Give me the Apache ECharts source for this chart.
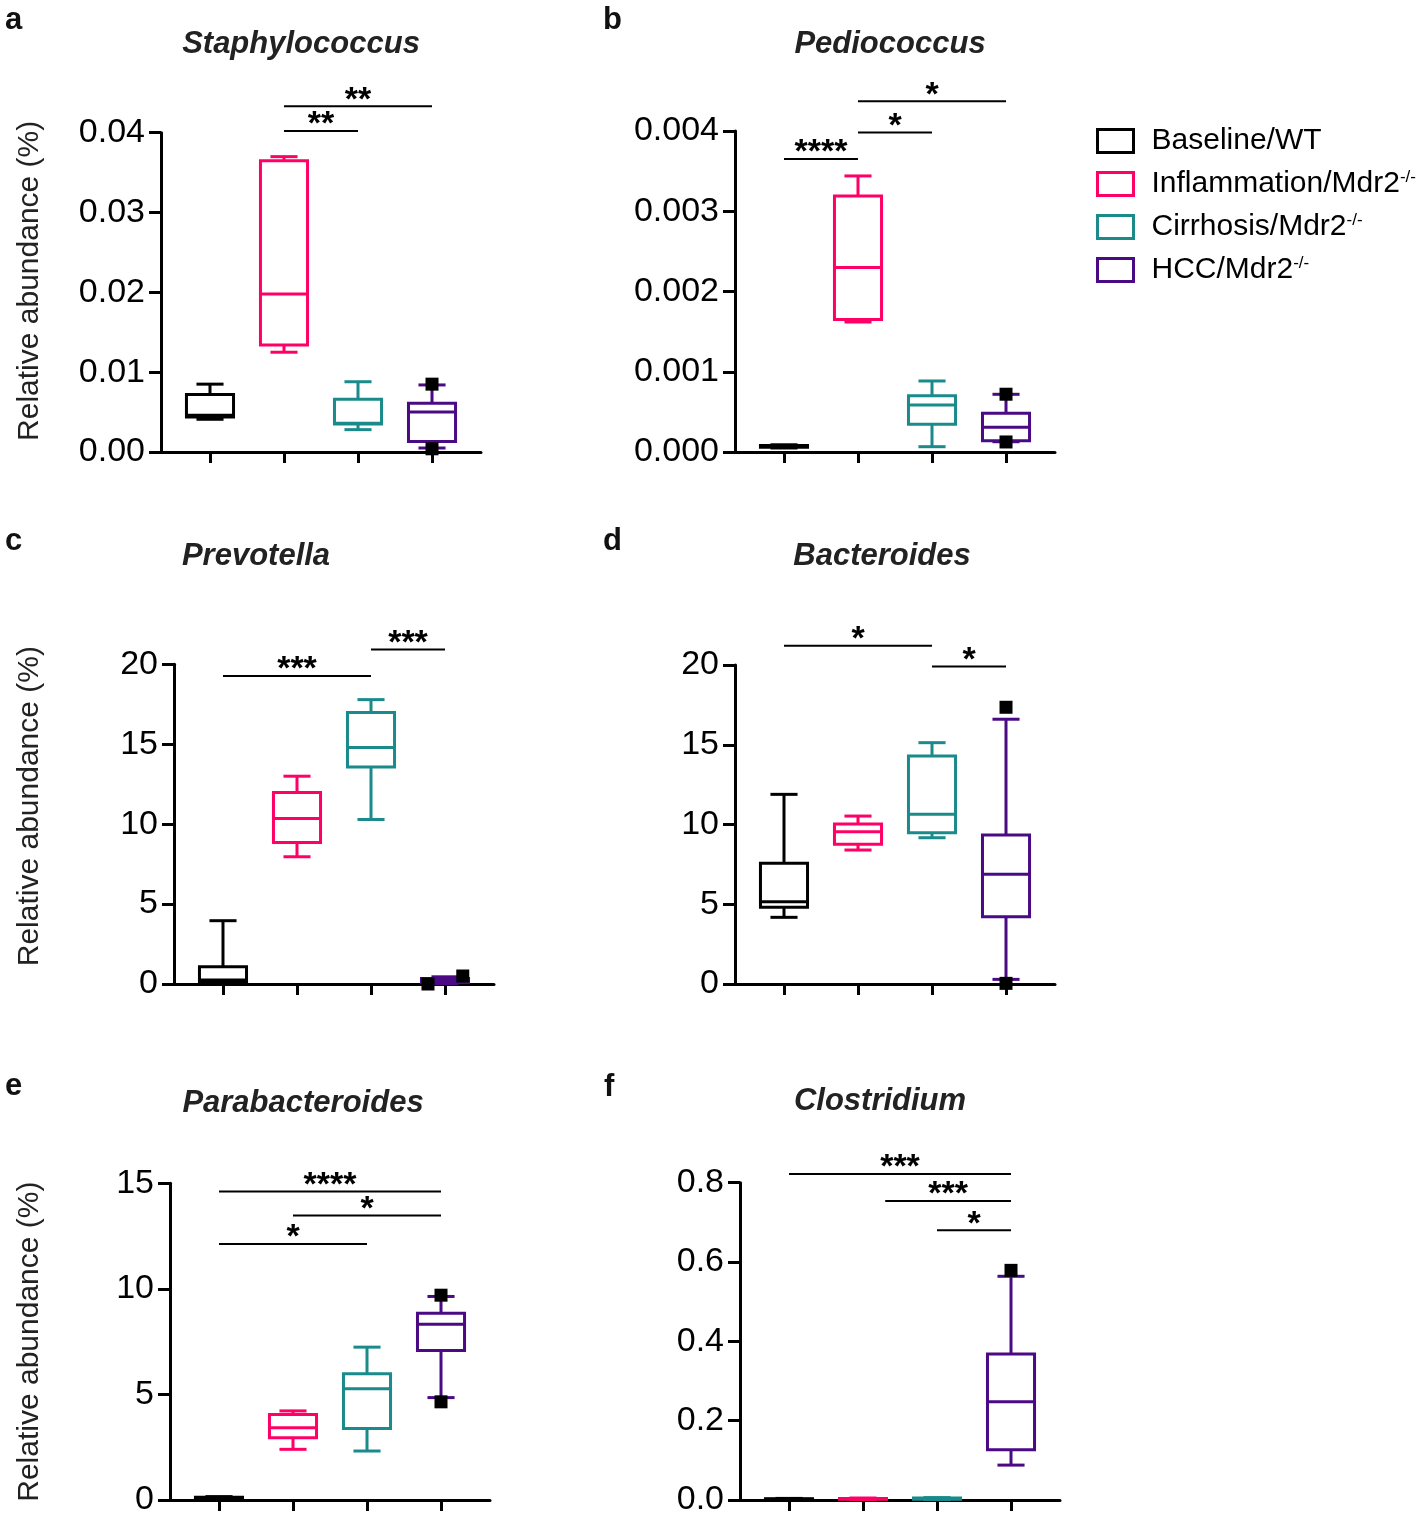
<!DOCTYPE html>
<html><head><meta charset="utf-8">
<script src="https://cdn.jsdelivr.net/npm/echarts@6/dist/echarts.min.js"></script>
<style>html,body{margin:0;padding:0;background:#fff}#c{width:1418px;height:1517px}</style>
</head><body><div id="c"></div>
<script>
// ---------- DATA ----------
const groups = ['Baseline/WT', 'Inflammation/Mdr2-/-', 'Cirrhosis/Mdr2-/-', 'HCC/Mdr2-/-'];
const panelNames = ['Staphylococcus', 'Pediococcus', 'Prevotella', 'Bacteroides', 'Parabacteroides', 'Clostridium'];
const panelLetters = ['a', 'b', 'c', 'd', 'e', 'f'];
const yAxisTitle = 'Relative abundance (%)';

// y tick labels per panel
const staphTicks = ['0.00', '0.01', '0.02', '0.03', '0.04'];
const pedioTicks = ['0.000', '0.001', '0.002', '0.003', '0.004'];
const prevoTicks = ['0', '5', '10', '15', '20'];
const bactTicks = ['0', '5', '10', '15', '20'];
const paraTicks = ['0', '5', '10', '15'];
const clostTicks = ['0.0', '0.2', '0.4', '0.6', '0.8'];
const yMax = [0.04, 0.004, 20, 20, 15, 0.8];
const yStep = [0.01, 0.001, 5, 5, 5, 0.2];

// box stats per group: [min, q1, median, q3, max]
const staphBox = [
  [0.0041, 0.0044, 0.0046, 0.0072, 0.0085],
  [0.0125, 0.0134, 0.0198, 0.0365, 0.0370],
  [0.0028, 0.0035, 0.0036, 0.0066, 0.0088],
  [0.0005, 0.0013, 0.0050, 0.0061, 0.0084]
];
const pedioBox = [
  [0.00005, 0.00006, 0.00007, 0.00008, 0.00009],
  [0.00162, 0.00165, 0.00230, 0.00319, 0.00344],
  [0.000066, 0.000345, 0.000586, 0.000702, 0.000885],
  [0.000128, 0.000141, 0.000307, 0.000482, 0.000719]
];
const prevoBox = [
  [0.0, 0.1, 0.25, 1.08, 3.96],
  [7.96, 8.85, 10.35, 11.98, 13.0],
  [10.29, 13.58, 14.79, 16.98, 17.79],
  [0.02, 0.1, 0.2, 0.35, 0.45]
];
const bactBox = [
  [4.18, 4.81, 5.16, 7.57, 11.89],
  [8.40, 8.76, 9.55, 10.03, 10.53],
  [9.17, 9.49, 10.64, 14.29, 15.13],
  [0.29, 4.22, 6.88, 9.34, 16.6]
];
const paraBox = [
  [0.05, 0.08, 0.10, 0.13, 0.16],
  [2.40, 2.95, 3.42, 4.05, 4.22],
  [2.32, 3.39, 5.27, 5.98, 7.24],
  [4.85, 7.08, 8.33, 8.85, 9.64]
];
const clostBox = [
  [0.001, 0.002, 0.002, 0.003, 0.004],
  [0.001, 0.002, 0.003, 0.004, 0.005],
  [0.001, 0.002, 0.003, 0.005, 0.006],
  [0.088, 0.127, 0.248, 0.368, 0.564]
];

// individual points drawn as squares: [group position, value]
const staphPts = [[3, 0.0085], [3, 0.0004]];
const pedioPts = [[3, 0.00072], [3, 0.000125]];
const prevoPts = [[2.77, 0.0], [3.24, 0.5]];
const bactPts = [[3, 17.35], [3, 0.04]];
const paraPts = [[3, 9.7], [3, 4.65]];
const clostPts = [[3, 0.579]];

// significance brackets: [from group, to group, height, label]
const staphSig = [[1, 2, 0.0402, '**'], [1, 3, 0.0433, '**']];
const pedioSig = [[0, 1, 0.00365, '****'], [1, 2, 0.00398, '*'], [1, 3, 0.00437, '*']];
const prevoSig = [[0, 2, 19.27, '***'], [2, 3, 20.92, '***']];
const bactSig = [[0, 2, 21.21, '*'], [2, 3, 19.9, '*']];
const paraSig = [[0, 3, 14.61, '****'], [1, 3, 13.48, '*'], [0, 2, 12.13, '*']];
const clostSig = [[0, 3, 0.822, '***'], [1.3, 3, 0.754, '***'], [2, 3, 0.680, '*']];

// ---------- STYLE / LAYOUT ----------
const colors = ['#000000', '#ff0066', '#1a8a8a', '#4a0a84'];
const FF = '"Liberation Sans", Arial, Helvetica, sans-serif';
const allTicks = [staphTicks, pedioTicks, prevoTicks, bactTicks, paraTicks, clostTicks];
const allBox = [staphBox, pedioBox, prevoBox, bactBox, paraBox, clostBox];
const allPts = [staphPts, pedioPts, prevoPts, bactPts, paraPts, clostPts];
const allSig = [staphSig, pedioSig, prevoSig, bactSig, paraSig, clostSig];
// grid: left, top, width, height
const layout = [
  [161, 132.7, 320, 319.3],
  [735, 131, 320, 321],
  [174, 664.3, 320, 319.7],
  [735, 665, 320, 319],
  [170, 1183.3, 320, 318.7],
  [740, 1182.7, 320, 319]
];
const titlePos = [[296, 24], [885, 24], [251, 536], [877, 536], [298, 1083], [875, 1081]];
const letterPos = [[0, 0], [598, 0], [0, 521], [598, 521], [0, 1066], [599, 1067]];
const nameGaps = [116, null, 129, null, 125, null];
const namePad = [[0, 0, 0, 23], null, [0, 0, 0, 36], null, [0, 0, 0, 0], null];

function renderBox(params, api) {
  const g = api.value(0);
  const pMin = api.coord([g, api.value(1)]);
  const pQ1 = api.coord([g, api.value(2)]);
  const pMed = api.coord([g, api.value(3)]);
  const pQ3 = api.coord([g, api.value(4)]);
  const pMax = api.coord([g, api.value(5)]);
  const band = api.size([1, 0])[0];
  const hb = band * 0.318, hc = band * 0.183;
  const cx = pMed[0];
  const color = api.visual('color');
  const ls = { stroke: color, lineWidth: 3, fill: 'none' };
  return {
    type: 'group', children: [
      { type: 'line', shape: { x1: cx, y1: pQ3[1], x2: cx, y2: pMax[1] }, style: ls },
      { type: 'line', shape: { x1: cx, y1: pQ1[1], x2: cx, y2: pMin[1] }, style: ls },
      { type: 'line', shape: { x1: cx - hc, y1: pMax[1], x2: cx + hc, y2: pMax[1] }, style: ls },
      { type: 'line', shape: { x1: cx - hc, y1: pMin[1], x2: cx + hc, y2: pMin[1] }, style: ls },
      { type: 'rect', shape: { x: cx - hb, y: pQ3[1], width: 2 * hb, height: pQ1[1] - pQ3[1] }, style: ls },
      { type: 'line', shape: { x1: cx - hb, y1: pMed[1], x2: cx + hb, y2: pMed[1] }, style: ls }
    ]
  };
}

function bracketRenderer(list) {
  return function (params, api) {
    const a = api.coord([api.value(0), api.value(2)]);
    const b = api.coord([api.value(1), api.value(2)]);
    const label = list[params.dataIndex][3];
    return {
      type: 'group', children: [
        { type: 'line', shape: { x1: a[0], y1: a[1], x2: b[0], y2: b[1] }, style: { stroke: '#000', lineWidth: 2 } },
        { type: 'text', x: (a[0] + b[0]) / 2, y: a[1] - 6,
          style: { text: label, fontSize: 34, fontWeight: 'bold', fontFamily: FF, fill: '#000', align: 'center', verticalAlign: 'middle' } }
      ]
    };
  };
}

const grid = [], xAxis = [], yAxis = [], series = [], title = [];
for (let p = 0; p < 6; p++) {
  const L = layout[p];
  grid.push({ left: L[0], top: L[1], width: L[2], height: L[3] });
  xAxis.push({
    type: 'value', gridIndex: p, min: -0.662, max: 3.662,
    axisLine: { show: true, onZero: false, lineStyle: { color: '#000', width: 3 } },
    axisTick: { show: true, customValues: [0, 1, 2, 3], length: 11, lineStyle: { color: '#000', width: 3 } },
    axisLabel: { show: false }, splitLine: { show: false }
  });
  const ticks = allTicks[p], step = yStep[p];
  const ya = {
    type: 'value', gridIndex: p, min: 0, max: yMax[p], interval: step,
    axisLine: { show: true, onZero: false, lineStyle: { color: '#000', width: 3 } },
    axisTick: { show: true, length: 12, lineStyle: { color: '#000', width: 3 } },
    axisLabel: { fontSize: 34, color: '#000', margin: 16, fontFamily: FF,
      formatter: function (v) { return ticks[Math.round(v / step)]; } },
    splitLine: { show: false }
  };
  if (nameGaps[p] !== null) {
    ya.name = yAxisTitle; ya.nameLocation = 'middle'; ya.nameGap = nameGaps[p];
    ya.nameTextStyle = { fontSize: 30, color: '#222', fontFamily: FF, padding: namePad[p] };
  }
  yAxis.push(ya);
  title.push({ text: panelNames[p], left: titlePos[p][0], top: titlePos[p][1], textAlign: 'center',
    textStyle: { fontSize: 31, fontStyle: 'italic', fontWeight: 'bold', color: '#222', fontFamily: FF } });
  title.push({ text: panelLetters[p], left: letterPos[p][0], top: letterPos[p][1],
    textStyle: { fontSize: 31, fontWeight: 'bold', color: '#111', fontFamily: FF } });
  for (let g = 0; g < 4; g++) {
    series.push({
      type: 'custom', name: groups[g], xAxisIndex: p, yAxisIndex: p,
      itemStyle: { color: colors[g] }, renderItem: renderBox, clip: false, z: 3,
      encode: { x: 0, y: [1, 2, 3, 4, 5] },
      data: [[g].concat(allBox[p][g])]
    });
  }
  series.push({
    type: 'scatter', name: 'points', xAxisIndex: p, yAxisIndex: p, symbol: 'rect', symbolSize: 13,
    itemStyle: { color: '#000', opacity: 1 }, z: 5, silent: true, clip: false, data: allPts[p]
  });
  series.push({
    type: 'custom', name: 'sig', xAxisIndex: p, yAxisIndex: p, clip: false, z: 4, silent: true,
    renderItem: bracketRenderer(allSig[p]), encode: { x: [0, 1], y: 2 },
    data: allSig[p].map(function (s) { return [s[0], s[1], s[2]]; })
  });
}

const chart = echarts.init(document.getElementById('c'), null, { renderer: 'canvas' });
chart.setOption({
  backgroundColor: '#fff',
  animation: false,
  title: title,
  legend: {
    orient: 'vertical', left: 1091, top: 121, itemWidth: 36, itemHeight: 23, itemGap: 13,
    selectedMode: false,
    formatter: function (n) { return n.replace('-/-', '{sup|-/-}'); },
    textStyle: { fontSize: 30, color: '#000', fontFamily: FF, padding: [0, 0, 0, 13],
      rich: { sup: { fontSize: 17, color: '#000', fontFamily: FF, verticalAlign: 'top' } } },
    data: groups.map(function (n, i) {
      return { name: n, icon: 'rect', itemStyle: { color: '#fff', borderColor: colors[i], borderWidth: 3 } };
    })
  },
  grid: grid, xAxis: xAxis, yAxis: yAxis, series: series
});
</script></body></html>
